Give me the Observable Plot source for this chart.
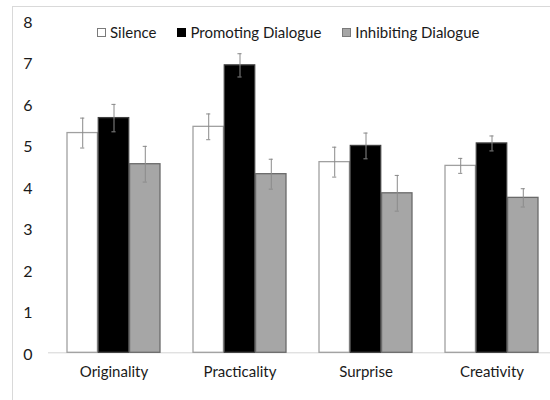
<!DOCTYPE html>
<html>
<head>
<meta charset="utf-8">
<script src="https://cdn.jsdelivr.net/npm/d3@7"></script>
<script src="https://cdn.jsdelivr.net/npm/@observablehq/plot@0.6"></script>
<style>
  html, body { margin: 0; padding: 0; background: #fff; }
  #wrap { position: relative; width: 550px; height: 400px; overflow: hidden; background: #fff; }
  #border { position: absolute; left: 12px; top: 6px; width: 800px; height: 800px; border: 1px solid #d9d9d9; pointer-events: none; }
  #legend { position: absolute; left: 97px; top: 23px; display: flex; gap: 21px; align-items: center;
            font-family: Lato, "Open Sans", sans-serif; font-size: 15px; color: #1a1a1a; white-space: nowrap; }
  #legend .item { display: flex; align-items: center; gap: 4px; }
  #legend .sw { display: inline-block; width: 7px; height: 7px; box-sizing: content-box; }
</style>
</head>
<body>
<div id="wrap"><div id="chart"></div><div id="legend"></div><div id="border"></div></div>
<script>
// ---- data ----
const categories = ["Originality", "Practicality", "Surprise", "Creativity"];
const series = ["Silence", "Promoting Dialogue", "Inhibiting Dialogue"];
const silenceMeans    = [5.29, 5.44, 4.59, 4.50];
const promotingMeans  = [5.65, 6.92, 4.98, 5.04];
const inhibitingMeans = [4.54, 4.30, 3.84, 3.73];
const silenceErr      = [0.36, 0.31, 0.36, 0.18];
const promotingErr    = [0.33, 0.28, 0.31, 0.18];
const inhibitingErr   = [0.43, 0.36, 0.43, 0.22];
const yTicks = [0, 1, 2, 3, 4, 5, 6, 7, 8];

// ---- styles ----
const fills   = ["#ffffff", "#000000", "#a6a6a6"];
const strokes = ["#a0a0a0", "#404040", "#6a6a6a"];
const legendBorders = ["#7a7a7a", "#000000", "#7a7a7a"];
const errColor = "#8a8a8a";

const means = [silenceMeans, promotingMeans, inhibitingMeans];
const errs = [silenceErr, promotingErr, inhibitingErr];
const rows = categories.flatMap((c, i) => series.map((s, j) => ({
  category: c, series: s, si: j, value: means[j][i], err: errs[j][i]
})));

// layout of x band scale
const xRange = [48.6, 556];
const padIn = 0.26, padOut = 0.13;
const step = (xRange[1] - xRange[0]) / (categories.length - padIn + 2 * padOut);
const bw = step * (1 - padIn);
const sub = bw / series.length;
const capW = 5;

const marks = [Plot.ruleY([0], {stroke: "#d4d4d4", strokeWidth: 1})];
series.forEach((s, j) => {
  const d = rows.filter(r => r.si === j);
  marks.push(Plot.barY(d, {
    x: "category", y: "value", fill: fills[j], stroke: strokes[j], strokeWidth: 1.3,
    insetLeft: j * sub, insetRight: (series.length - 1 - j) * sub
  }));
});
series.forEach((s, j) => {
  const d = rows.filter(r => r.si === j);
  const off = (j - (series.length - 1) / 2) * sub;
  marks.push(Plot.ruleX(d, {
    x: "category", y1: r => r.value - r.err, y2: r => r.value + r.err, dx: off, stroke: errColor, strokeWidth: 1
  }));
  const il = j * sub + (sub - capW) / 2, ir = (series.length - 1 - j) * sub + (sub - capW) / 2;
  marks.push(Plot.tickY(d, {x: "category", y: r => r.value - r.err, insetLeft: il, insetRight: ir, stroke: errColor}));
  marks.push(Plot.tickY(d, {x: "category", y: r => r.value + r.err, insetLeft: il, insetRight: ir, stroke: errColor}));
});

const hasAxisMarks = typeof Plot.axisY === "function";
if (hasAxisMarks) {
  marks.push(Plot.axisY({ticks: yTicks, tickSize: 0, tickPadding: 16, fontSize: 16, dy: 2, label: null}));
  marks.push(Plot.axisX({tickSize: 0, tickPadding: 14, fontSize: 15, label: null}));
}

const plot = Plot.plot({
  width: 550, height: 400,
  marginLeft: 48, marginRight: 0, marginTop: 20, marginBottom: 47.7,
  style: {fontFamily: "Lato, 'Open Sans', sans-serif", fontSize: "15px", color: "#1a1a1a", background: "transparent"},
  x: {domain: categories, range: xRange, paddingInner: padIn, paddingOuter: padOut, align: 0.5,
      tickSize: 0, tickPadding: 14, label: null},
  y: {domain: [0, 8], range: [352.3, 20], ticks: yTicks, tickSize: 0, tickPadding: 16, label: null},
  marks
});
document.getElementById("chart").appendChild(plot);
if (!hasAxisMarks) {
  d3.select(plot).selectAll('g[aria-label^="y-axis"]').style("font-size", "16px");
  d3.select(plot).selectAll('g[aria-label^="x-axis"]').style("font-size", "15px");
}

// legend
const legend = d3.select("#legend");
series.forEach((s, j) => {
  const it = legend.append("div").attr("class", "item");
  it.append("span").attr("class", "sw")
    .style("background", fills[j]).style("border", `1px solid ${legendBorders[j]}`);
  it.append("span").text(s);
});
</script>
</body>
</html>
